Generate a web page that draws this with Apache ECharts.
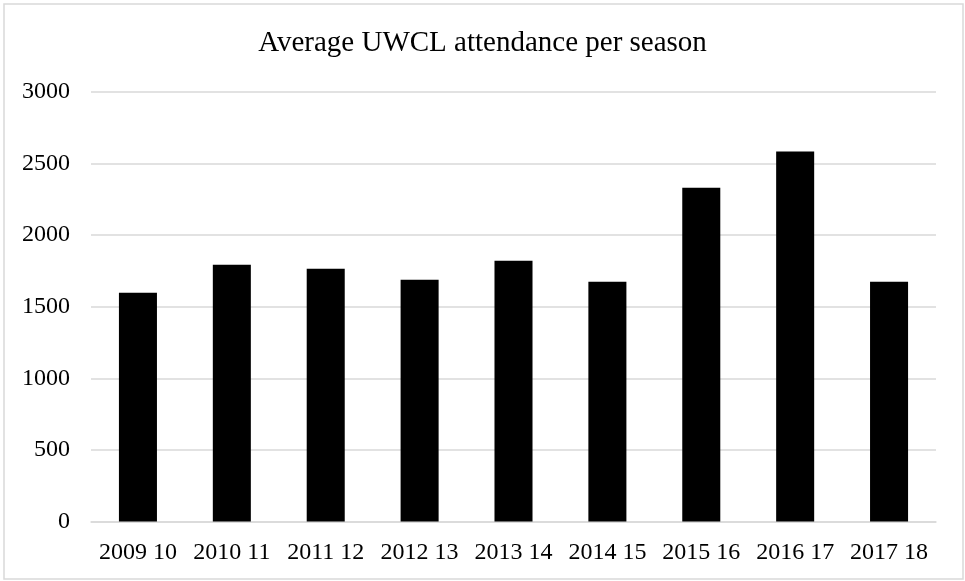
<!DOCTYPE html>
<html>
<head>
<meta charset="utf-8">
<script src="https://cdn.jsdelivr.net/npm/echarts@6/dist/echarts.min.js"></script>
<style>
html,body{margin:0;padding:0;background:#fff;}
#chart{width:965px;height:581px;}
</style>
</head>
<body>
<div id="chart"></div>
<script>
const titleText = 'Average UWCL attendance per season';
const categories = ['2009 10','2010 11','2011 12','2012 13','2013 14','2014 15','2015 16','2016 17','2017 18'];
const attendance = [1597, 1794, 1766, 1689, 1822, 1675, 2332, 2584, 1675];
const yTicks = [0, 500, 1000, 1500, 2000, 2500, 3000];

const chart = echarts.init(document.getElementById('chart'), null, {renderer:'canvas'});
const serif = '"Liberation Serif", "Times New Roman", serif';
chart.setOption({
  animation: false,
  backgroundColor: '#fff',
  textStyle: {fontFamily: serif},
  title: {
    text: titleText,
    left: 'center',
    top: 29,
    padding: 0,
    textStyle: {fontFamily: serif, fontSize: 29, fontWeight: 'normal', color: '#000'}
  },
  graphic: [{
    type: 'rect',
    shape: {x: 4, y: 4, width: 959, height: 575},
    style: {fill: 'none', stroke: '#d9d9d9', lineWidth: 1.5},
    silent: true
  }],
  grid: {left: 91, right: 29, top: 92, bottom: 59.5, containLabel: false},
  xAxis: {
    type: 'category',
    data: categories,
    axisLine: {show: true, lineStyle: {color: '#d9d9d9', width: 1.5}},
    axisTick: {show: false},
    axisLabel: {fontFamily: serif, fontSize: 24, color: '#000', margin: 19, interval: 0}
  },
  yAxis: {
    type: 'value',
    min: yTicks[0],
    max: yTicks[yTicks.length - 1],
    interval: 500,
    axisLine: {show: false},
    axisTick: {show: false},
    splitLine: {lineStyle: {color: '#d9d9d9', width: 1.5}},
    axisLabel: {fontFamily: serif, fontSize: 24, color: '#000', margin: 21, formatter: v => String(v)}
  },
  series: [{
    type: 'bar',
    data: attendance,
    barWidth: '40.5%',
    itemStyle: {color: '#000'}
  }]
});
</script>
</body>
</html>
